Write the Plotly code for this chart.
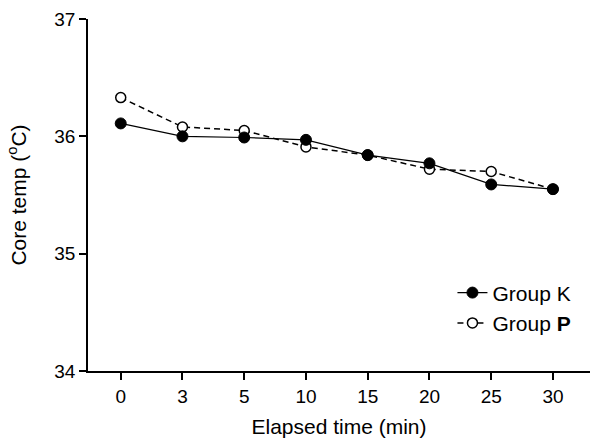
import plotly.graph_objects as go

time_labels = ["0", "3", "5", "10", "15", "20", "25", "30"]
group_k = [36.11, 36.00, 35.99, 35.97, 35.84, 35.77, 35.59, 35.55]
group_p = [36.33, 36.08, 36.05, 35.91, 35.84, 35.72, 35.70, 35.55]

FONT = "Liberation Sans, Arial, sans-serif"

fig = go.Figure()
fig.add_trace(go.Scatter(
    x=time_labels, y=group_p, name="Group <b>P</b>", mode="lines+markers",
    line=dict(color="black", width=1.5, dash="6px,4px"),
    marker=dict(symbol="circle", size=10, color="white",
                line=dict(color="black", width=1.5)),
))
fig.add_trace(go.Scatter(
    x=time_labels, y=group_k, name="Group K", mode="lines+markers",
    line=dict(color="black", width=1.2),
    marker=dict(symbol="circle", size=11, color="black",
                line=dict(color="black", width=1)),
))

fig.update_layout(
    width=599, height=441,
    margin=dict(l=88, r=9, t=19, b=70, autoexpand=False),
    paper_bgcolor="white", plot_bgcolor="white",
    font=dict(family=FONT, size=19, color="black"),
    showlegend=True,
    legend=dict(x=0.726, y=0.28, xanchor="left", yanchor="top",
                traceorder="reversed", bgcolor="rgba(0,0,0,0)",
                font=dict(size=21, family=FONT)),
    xaxis=dict(
        type="category", range=[-0.53, 7.6], automargin=False,
        showline=True, linecolor="black", linewidth=1.5,
        ticks="outside", ticklen=7, tickwidth=1.5, tickcolor="black",
        showgrid=False, zeroline=False,
        tickfont=dict(size=19),
        title=dict(text="Elapsed time (min)", font=dict(size=21), standoff=14),
    ),
    yaxis=dict(
        range=[34, 37], tickvals=[34, 35, 36, 37], automargin=False,
        showline=True, linecolor="black", linewidth=1.5,
        ticks="outside", ticklen=7, tickwidth=1.5, tickcolor="black",
        showgrid=False, zeroline=False,
        tickfont=dict(size=19),
        title=dict(text="Core temp (<sup>o</sup>C)", font=dict(size=21), standoff=22),
    ),
)

fig.write_html("out.html", config={"displayModeBar": False},
               post_script="document.body.style.margin='0';document.body.style.overflow='hidden';")
